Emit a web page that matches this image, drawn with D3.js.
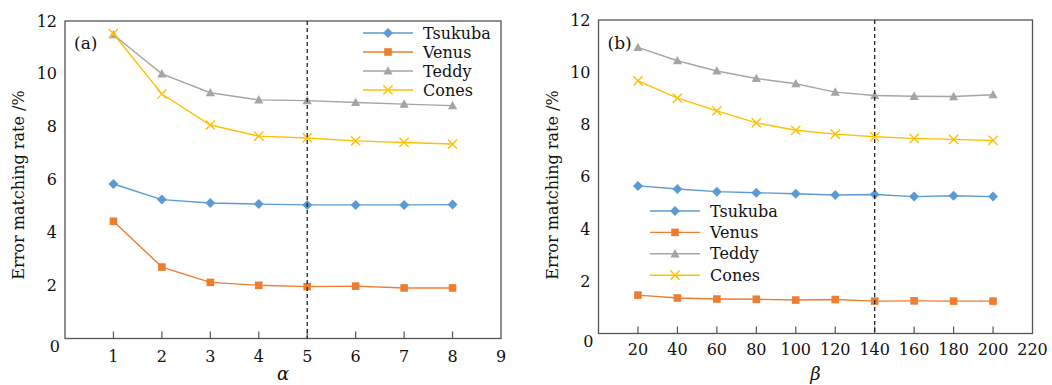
<!doctype html>
<meta charset="utf-8">
<body style="margin:0;background:#fff">

<div id="chart"></div>

<script src="https://cdn.jsdelivr.net/npm/d3@7"></script>
<script>

// data
const seriesNames = ["Tsukuba", "Venus", "Teddy", "Cones"]
const colors = ["#5b9bd5", "#ed7d31", "#a5a5a5", "#ffc000"]

const alphaX = [1, 2, 3, 4, 5, 6, 7, 8]
const alphaTsukuba = [5.84, 5.25, 5.12, 5.08, 5.05, 5.05, 5.05, 5.06]
const alphaVenus = [4.43, 2.70, 2.12, 2.01, 1.96, 1.98, 1.91, 1.91]
const alphaTeddy = [11.48, 10.0, 9.29, 9.02, 8.99, 8.92, 8.86, 8.80]
const alphaCones = [11.52, 9.24, 8.07, 7.65, 7.58, 7.47, 7.41, 7.35]
const alphaTicks = [1, 2, 3, 4, 5, 6, 7, 8, 9]

const betaX = [20, 40, 60, 80, 100, 120, 140, 160, 180, 200]
const betaTsukuba = [5.65, 5.53, 5.43, 5.39, 5.35, 5.30, 5.32, 5.24, 5.27, 5.24]
const betaVenus = [1.47, 1.36, 1.32, 1.31, 1.28, 1.30, 1.24, 1.25, 1.24, 1.24]
const betaTeddy = [10.95, 10.44, 10.05, 9.76, 9.56, 9.24, 9.11, 9.08, 9.07, 9.14]
const betaCones = [9.67, 9.01, 8.52, 8.06, 7.78, 7.63, 7.53, 7.47, 7.43, 7.39]
const betaTicks = [20, 40, 60, 80, 100, 120, 140, 160, 180, 200, 220]

const yTicks = [2, 4, 6, 8, 10, 12]

const W = 1052, H = 385
const font = "'DejaVu Serif', serif"
const axisColor = "#555"
const textColor = "#111"

const svg = d3.select("#chart").append("svg")
  .attr("width", W)
  .attr("height", H)
  .style("font-family", font)

// marker shapes, centred on 0,0
const markerPath = [
  "M0,-5L5,0L0,5L-5,0Z",
  "M-3.8,-3.8H3.8V3.8H-3.8Z",
  "M0,-4.8L4.6,3.6H-4.6Z",
  "M-4.6,-4.6L4.6,4.6M-4.6,4.6L4.6,-4.6"
]

function drawMarker(g, i, x, y) {
  const p = g.append("path")
    .attr("d", markerPath[i])
    .attr("transform", "translate(" + x + "," + y + ")")
  if (i === 3) {
    p.attr("fill", "none").attr("stroke", colors[i]).attr("stroke-width", 1.4)
  } else {
    p.attr("fill", colors[i])
  }
}

function panel(opts) {
  const g = svg.append("g")
  const x = d3.scaleLinear().domain(opts.xDomain).range([opts.left, opts.right])
  const y = d3.scaleLinear().domain([0, 12]).range([opts.bottom, opts.top])

  // frame
  g.append("rect")
    .attr("x", opts.left).attr("y", opts.top)
    .attr("width", opts.right - opts.left).attr("height", opts.bottom - opts.top)
    .attr("fill", "none").attr("stroke", axisColor).attr("stroke-width", 1.3)

  // x ticks (inward) and labels
  const xt = g.selectAll(".xt").data(opts.xTicks).enter().append("g")
  xt.filter(d => x(d) < opts.right - 1).append("line")
    .attr("x1", d => x(d)).attr("x2", d => x(d))
    .attr("y1", opts.bottom).attr("y2", opts.bottom - 7)
    .attr("stroke", axisColor).attr("stroke-width", 1.2)
  xt.append("text")
    .attr("x", d => x(d)).attr("y", opts.bottom + opts.xLabelDy)
    .attr("text-anchor", "middle").attr("dominant-baseline", "central")
    .attr("font-size", 16).attr("fill", textColor)
    .text(d => d)

  // y labels
  g.selectAll(".yt").data(yTicks).enter().append("text")
    .attr("x", opts.left - 8).attr("y", d => y(d))
    .attr("text-anchor", "end").attr("dominant-baseline", "central")
    .attr("font-size", 16).attr("fill", textColor)
    .text(d => d)
  g.append("text")
    .attr("x", opts.left - 5).attr("y", opts.bottom + opts.zeroDy)
    .attr("text-anchor", "end").attr("dominant-baseline", "central")
    .attr("font-size", 16).attr("fill", textColor)
    .text("0")

  // axis titles
  g.append("text")
    .attr("x", (opts.left + opts.right) / 2).attr("y", 373)
    .attr("text-anchor", "middle").attr("dominant-baseline", "central")
    .attr("font-size", 18).attr("font-style", "italic").attr("fill", textColor)
    .text(opts.xTitle)
  g.append("text")
    .attr("transform", "translate(" + opts.yTitleX + "," + 185 + ") rotate(-90)")
    .attr("text-anchor", "middle").attr("dominant-baseline", "central")
    .attr("font-size", 16).attr("fill", textColor)
    .text("Error matching rate /%")

  // panel tag
  g.append("text")
    .attr("x", opts.left + 9).attr("y", 43)
    .attr("dominant-baseline", "central")
    .attr("font-size", 17).attr("fill", textColor)
    .text(opts.tag)

  // series
  const line = d3.line().x(d => x(d[0])).y(d => y(d[1]))
  opts.series.forEach((vals, i) => {
    const pts = opts.xs.map((v, j) => [v, vals[j]])
    g.append("path").datum(pts)
      .attr("d", line)
      .attr("fill", "none").attr("stroke", colors[i]).attr("stroke-width", 1.4)
  })
  // markers drawn after all lines
  opts.series.forEach((vals, i) => {
    opts.xs.forEach((v, j) => drawMarker(g, i, x(v), y(vals[j])))
  })

  // dashed marker line
  g.append("line")
    .attr("x1", x(opts.dashAt)).attr("x2", x(opts.dashAt))
    .attr("y1", opts.top).attr("y2", opts.bottom)
    .attr("stroke", "#222").attr("stroke-width", 1.3)
    .attr("stroke-dasharray", "4,3")

  // legend
  const lg = g.append("g")
  seriesNames.forEach((name, i) => {
    const ly = opts.legend.y + i * opts.legend.step
    lg.append("line")
      .attr("x1", opts.legend.x).attr("x2", opts.legend.x + 50)
      .attr("y1", ly).attr("y2", ly)
      .attr("stroke", colors[i]).attr("stroke-width", 1.4)
    drawMarker(lg, i, opts.legend.x + 25, ly)
    lg.append("text")
      .attr("x", opts.legend.x + 60).attr("y", ly)
      .attr("dominant-baseline", "central")
      .attr("font-size", 16).attr("fill", textColor)
      .text(name)
  })
}

panel({
  left: 65, right: 501, top: 21, bottom: 338.5,
  xDomain: [0, 9], xTicks: alphaTicks, xLabelDy: 18, zeroDy: 8,
  xs: alphaX, series: [alphaTsukuba, alphaVenus, alphaTeddy, alphaCones],
  xTitle: "α", yTitleX: 18, tag: "(a)", dashAt: 5,
  legend: { x: 363, y: 33, step: 19 }
})

panel({
  left: 598.5, right: 1032.5, top: 20, bottom: 333.5,
  xDomain: [0, 220], xTicks: betaTicks, xLabelDy: 16, zeroDy: 8,
  xs: betaX, series: [betaTsukuba, betaVenus, betaTeddy, betaCones],
  xTitle: "β", yTitleX: 552, tag: "(b)", dashAt: 140,
  legend: { x: 650, y: 211, step: 21.4 }
})

</script>
</body>
